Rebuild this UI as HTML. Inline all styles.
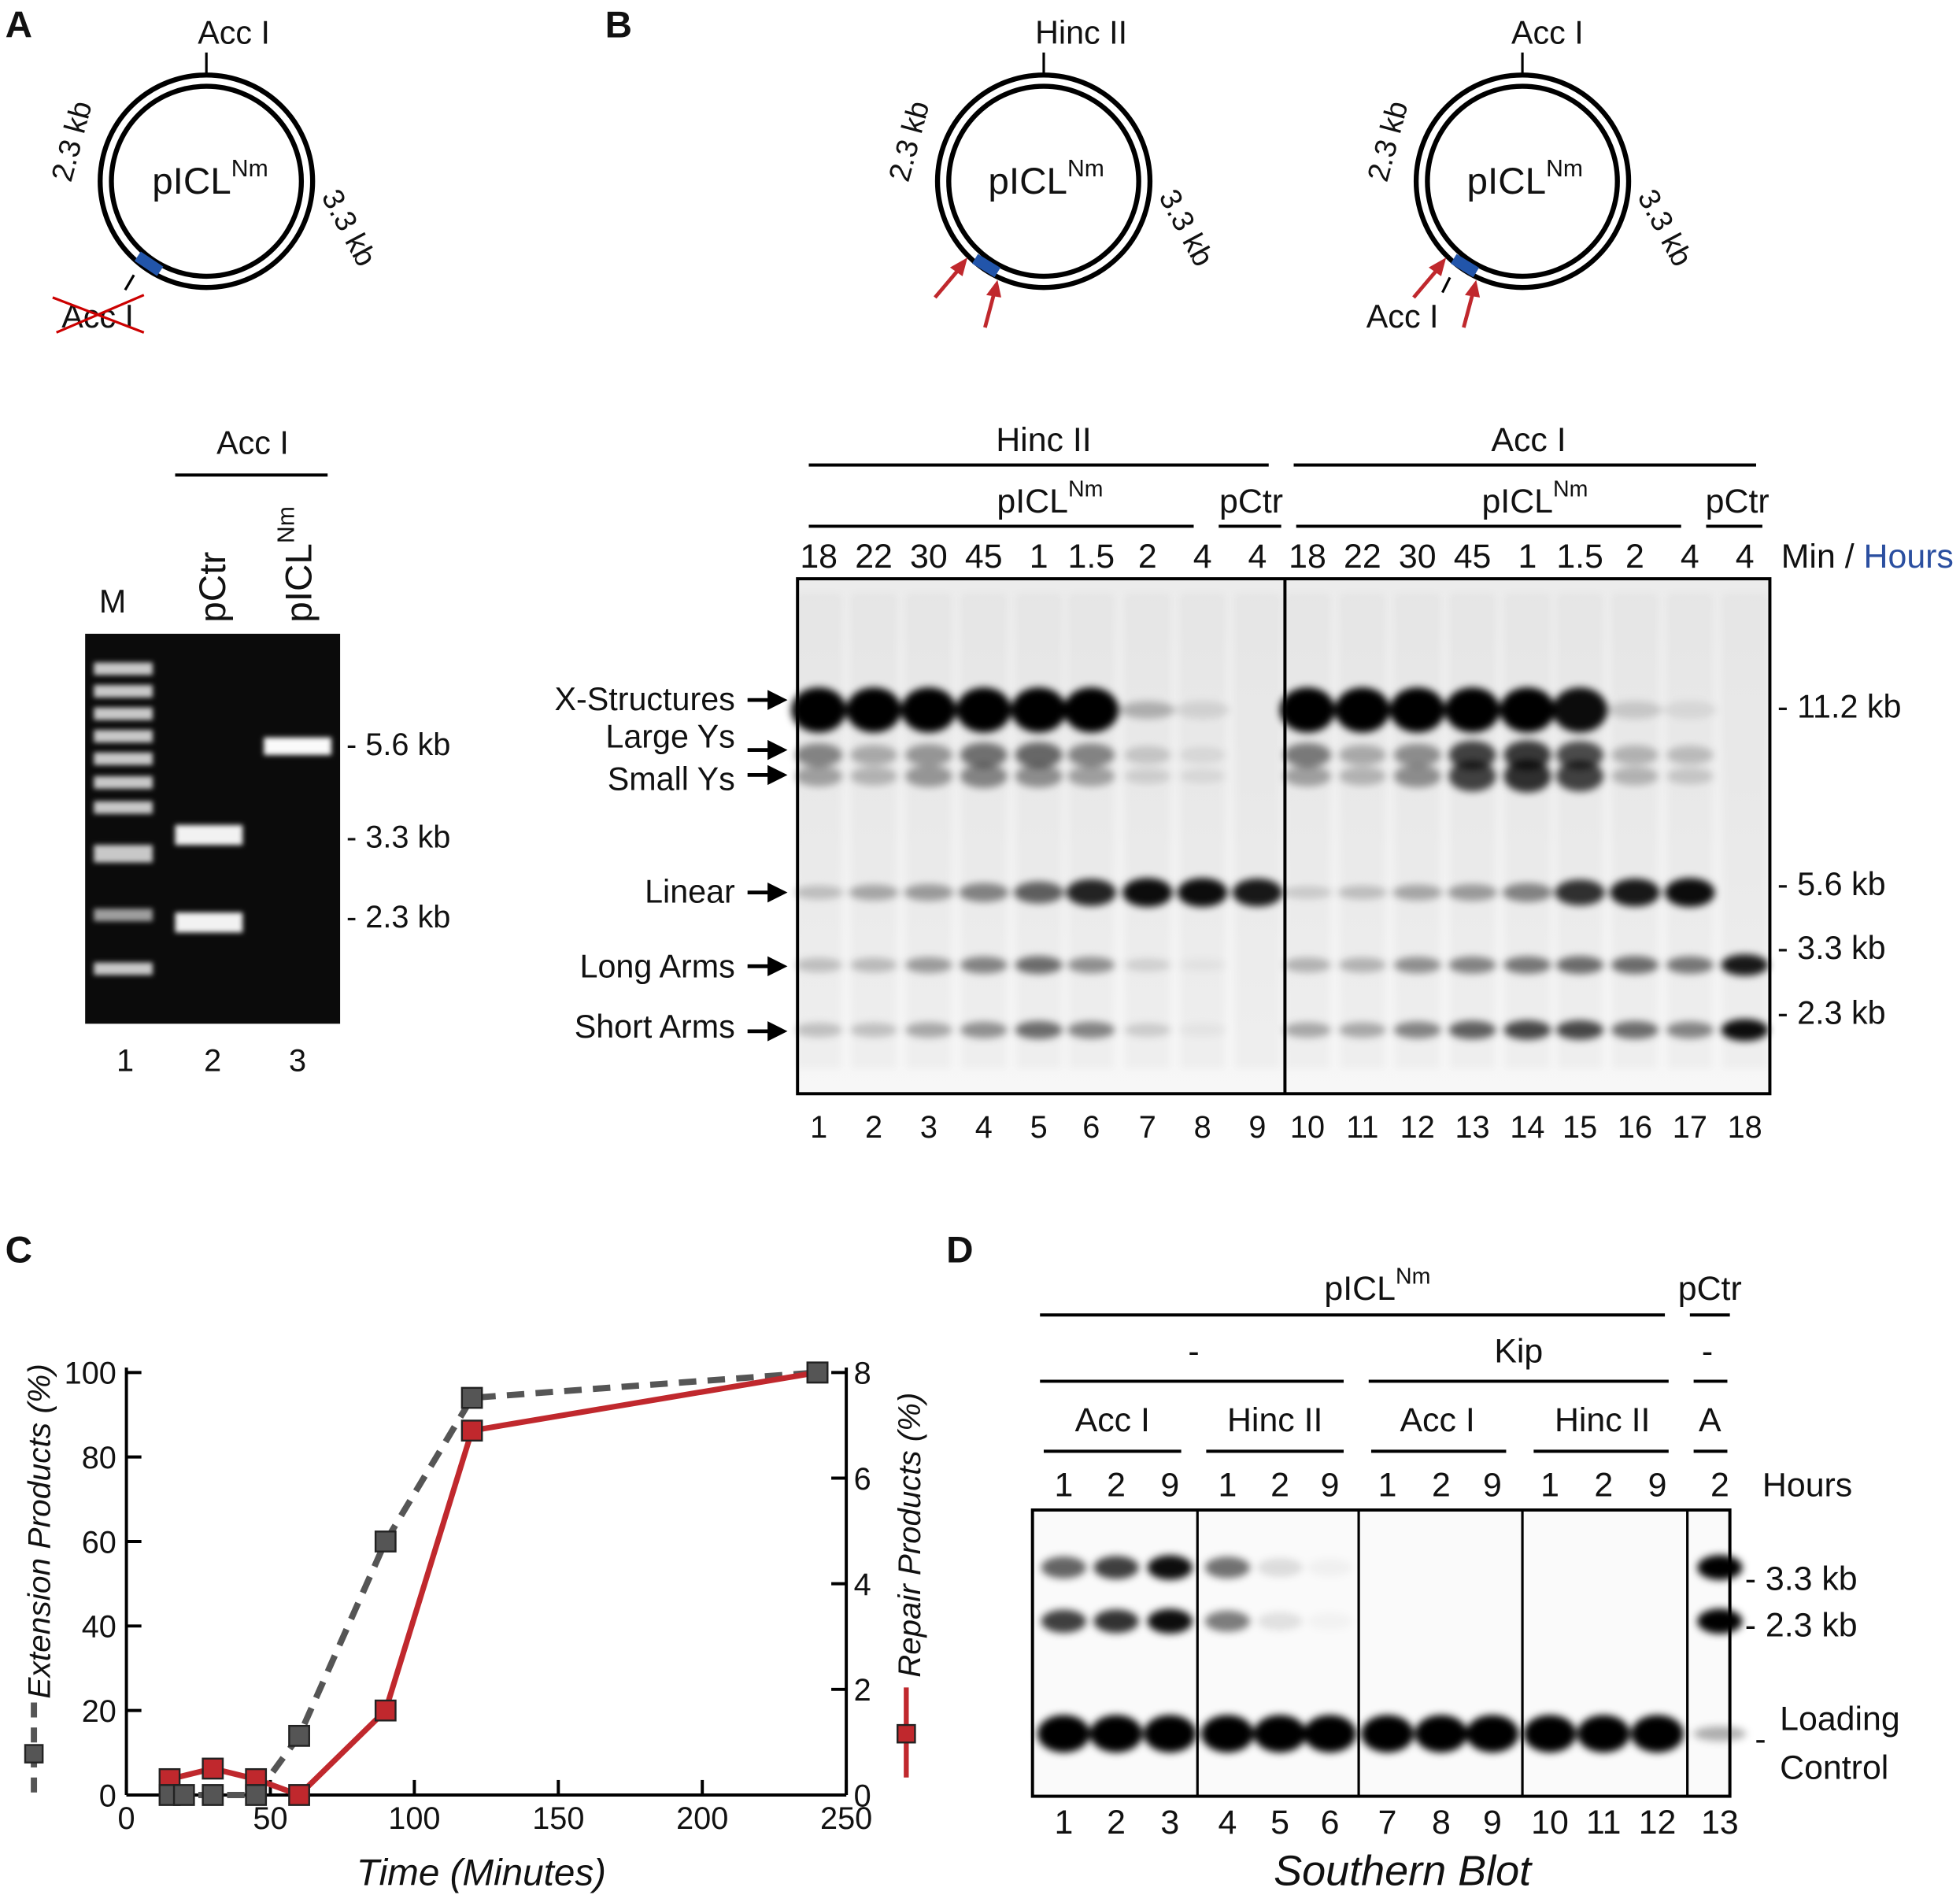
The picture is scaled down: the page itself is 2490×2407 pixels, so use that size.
<!DOCTYPE html>
<html><head><meta charset="utf-8">
<style>
html,body{margin:0;padding:0;background:#fff;}
svg{display:block;}
text{font-family:"Liberation Sans",sans-serif;fill:#111;}
</style></head>
<body>
<svg id="fig" width="2490" height="2407" viewBox="0 0 1568 1516" xmlns="http://www.w3.org/2000/svg">
<defs>
<filter id="blur" x="-50%" y="-100%" width="200%" height="300%"><feGaussianBlur stdDeviation="3"/></filter>
<filter id="blur2" x="-50%" y="-100%" width="200%" height="300%"><feGaussianBlur stdDeviation="2"/></filter>
<linearGradient id="gelbg" x1="0" y1="0" x2="0" y2="1"><stop offset="0" stop-color="#ececec"/><stop offset="1" stop-color="#f7f7f7"/></linearGradient>
</defs>

<!-- Panel A -->
<g>
<text x="4" y="30" font-size="30" font-weight="bold">A</text>
<circle cx="165" cy="145" r="85" fill="none" stroke="#000" stroke-width="4"/>
<circle cx="165" cy="145" r="76" fill="none" stroke="#000" stroke-width="4"/>
<line x1="165" y1="60" x2="165" y2="42" stroke="#000" stroke-width="2"/>
<text x="187" y="35" font-size="26" text-anchor="middle">Acc I</text>
<text x="168" y="155" font-size="30" text-anchor="middle">pICL<tspan font-size="19" dy="-14">Nm</tspan></text>
<text transform="translate(65,115) rotate(-75)" font-size="24" text-anchor="middle">2.3 kb</text>
<text transform="translate(272,186) rotate(62)" font-size="24" text-anchor="middle">3.3 kb</text>
<line x1="110" y1="205" x2="128" y2="217" stroke="#2255aa" stroke-width="9"/>
<line x1="107" y1="220" x2="100" y2="232" stroke="#000" stroke-width="2"/>
<text x="78" y="262" font-size="26" text-anchor="middle" fill="#333">Acc I</text>
<line x1="42" y1="238" x2="115" y2="266" stroke="#c00" stroke-width="2"/>
<line x1="45" y1="266" x2="115" y2="236" stroke="#c00" stroke-width="2"/>

<text x="202" y="363" font-size="26" text-anchor="middle">Acc I</text>
<line x1="140" y1="380" x2="262" y2="380" stroke="#000" stroke-width="2.5"/>
<text x="90" y="490" font-size="26" text-anchor="middle">M</text>
<text transform="translate(180,498) rotate(-90)" font-size="30">pCtr</text>
<text transform="translate(249,498) rotate(-90)" font-size="30">pICL<tspan font-size="19" dy="-14">Nm</tspan></text>
<rect x="68" y="507" width="204" height="312" fill="#0b0b0b"/>
<g id="gelA" filter="url(#blur2)"></g>
<text x="277" y="604" font-size="25">- 5.6 kb</text>
<text x="277" y="678" font-size="25">- 3.3 kb</text>
<text x="277" y="742" font-size="25">- 2.3 kb</text>
<text x="100" y="857" font-size="25" text-anchor="middle">1</text>
<text x="170" y="857" font-size="25" text-anchor="middle">2</text>
<text x="238" y="857" font-size="25" text-anchor="middle">3</text>
</g>

<!-- Panel B -->
<g>
<text x="484" y="30" font-size="30" font-weight="bold">B</text>
<g>
<circle cx="835" cy="145" r="85" fill="none" stroke="#000" stroke-width="4"/>
<circle cx="835" cy="145" r="76" fill="none" stroke="#000" stroke-width="4"/>
<line x1="835" y1="60" x2="835" y2="42" stroke="#000" stroke-width="2"/>
<text x="865" y="35" font-size="26" text-anchor="middle">Hinc II</text>
<text x="837" y="155" font-size="30" text-anchor="middle">pICL<tspan font-size="19" dy="-14">Nm</tspan></text>
<text transform="translate(735,115) rotate(-75)" font-size="24" text-anchor="middle">2.3 kb</text>
<text transform="translate(942,186) rotate(62)" font-size="24" text-anchor="middle">3.3 kb</text>
<line x1="780" y1="207" x2="798" y2="218" stroke="#2255aa" stroke-width="9"/>
<line x1="748" y1="238" x2="770" y2="212" stroke="#c0282d" stroke-width="3"/>
<polygon points="774,206 760,214 770,221" fill="#c0282d"/>
<line x1="788" y1="262" x2="796" y2="232" stroke="#c0282d" stroke-width="3"/>
<polygon points="798,224 789,236 801,238" fill="#c0282d"/>
</g>
<g>
<circle cx="1218" cy="145" r="85" fill="none" stroke="#000" stroke-width="4"/>
<circle cx="1218" cy="145" r="76" fill="none" stroke="#000" stroke-width="4"/>
<line x1="1218" y1="60" x2="1218" y2="42" stroke="#000" stroke-width="2"/>
<text x="1238" y="35" font-size="26" text-anchor="middle">Acc I</text>
<text x="1220" y="155" font-size="30" text-anchor="middle">pICL<tspan font-size="19" dy="-14">Nm</tspan></text>
<text transform="translate(1118,115) rotate(-75)" font-size="24" text-anchor="middle">2.3 kb</text>
<text transform="translate(1325,186) rotate(62)" font-size="24" text-anchor="middle">3.3 kb</text>
<line x1="1163" y1="207" x2="1181" y2="218" stroke="#2255aa" stroke-width="9"/>
<line x1="1160" y1="222" x2="1154" y2="234" stroke="#000" stroke-width="2"/>
<text x="1122" y="262" font-size="26" text-anchor="middle">Acc I</text>
<line x1="1131" y1="238" x2="1153" y2="212" stroke="#c0282d" stroke-width="3"/>
<polygon points="1157,206 1143,214 1153,221" fill="#c0282d"/>
<line x1="1171" y1="262" x2="1179" y2="232" stroke="#c0282d" stroke-width="3"/>
<polygon points="1181,224 1172,236 1184,238" fill="#c0282d"/>
</g>

<text x="835" y="361" font-size="27" text-anchor="middle">Hinc II</text>
<line x1="647" y1="372" x2="1015" y2="372" stroke="#000" stroke-width="2.5"/>
<text x="1223" y="361" font-size="27" text-anchor="middle">Acc I</text>
<line x1="1035" y1="372" x2="1405" y2="372" stroke="#000" stroke-width="2.5"/>
<text x="840" y="410" font-size="27" text-anchor="middle">pICL<tspan font-size="18" dy="-13">Nm</tspan></text>
<line x1="647" y1="421" x2="955" y2="421" stroke="#000" stroke-width="2.5"/>
<text x="1001" y="410" font-size="27" text-anchor="middle">pCtr</text>
<line x1="975" y1="421" x2="1025" y2="421" stroke="#000" stroke-width="2.5"/>
<text x="1228" y="410" font-size="27" text-anchor="middle">pICL<tspan font-size="18" dy="-13">Nm</tspan></text>
<line x1="1037" y1="421" x2="1345" y2="421" stroke="#000" stroke-width="2.5"/>
<text x="1390" y="410" font-size="27" text-anchor="middle">pCtr</text>
<line x1="1365" y1="421" x2="1410" y2="421" stroke="#000" stroke-width="2.5"/>
<g id="timeB"></g>
<text x="1425" y="454" font-size="27">Min / <tspan fill="#2b4fa0">Hours</tspan></text>

<rect x="638" y="463" width="778" height="412" fill="url(#gelbg)"/>
<g id="gelB" filter="url(#blur)"></g>
<rect x="638" y="463" width="778" height="412" fill="none" stroke="#000" stroke-width="2.5"/>
<line x1="1028" y1="463" x2="1028" y2="875" stroke="#000" stroke-width="2.5"/>
<g id="laneB"></g>
<g id="leftLabelsB"></g>
<text x="1422" y="574" font-size="26">- 11.2 kb</text>
<text x="1422" y="716" font-size="26">- 5.6 kb</text>
<text x="1422" y="767" font-size="26">- 3.3 kb</text>
<text x="1422" y="819" font-size="26">- 2.3 kb</text>
</g>

<!-- Panel C -->
<g>
<text x="4" y="1010" font-size="30" font-weight="bold">C</text>
<g id="chartC"></g>
</g>

<!-- Panel D -->
<g>
<text x="757" y="1010" font-size="30" font-weight="bold">D</text>
<text x="1102" y="1040" font-size="27" text-anchor="middle">pICL<tspan font-size="18" dy="-13">Nm</tspan></text>
<line x1="832" y1="1052" x2="1332" y2="1052" stroke="#000" stroke-width="2.5"/>
<text x="1368" y="1040" font-size="27" text-anchor="middle">pCtr</text>
<line x1="1352" y1="1052" x2="1384" y2="1052" stroke="#000" stroke-width="2.5"/>
<text x="955" y="1090" font-size="27" text-anchor="middle">-</text>
<text x="1215" y="1090" font-size="27" text-anchor="middle">Kip</text>
<text x="1366" y="1090" font-size="27" text-anchor="middle">-</text>
<line x1="832" y1="1105" x2="1075" y2="1105" stroke="#000" stroke-width="2.5"/>
<line x1="1095" y1="1105" x2="1335" y2="1105" stroke="#000" stroke-width="2.5"/>
<line x1="1355" y1="1105" x2="1382" y2="1105" stroke="#000" stroke-width="2.5"/>
<text x="890" y="1145" font-size="27" text-anchor="middle">Acc I</text>
<text x="1020" y="1145" font-size="27" text-anchor="middle">Hinc II</text>
<text x="1150" y="1145" font-size="27" text-anchor="middle">Acc I</text>
<text x="1282" y="1145" font-size="27" text-anchor="middle">Hinc II</text>
<text x="1368" y="1145" font-size="27" text-anchor="middle">A</text>
<line x1="835" y1="1161" x2="945" y2="1161" stroke="#000" stroke-width="2.5"/>
<line x1="965" y1="1161" x2="1075" y2="1161" stroke="#000" stroke-width="2.5"/>
<line x1="1097" y1="1161" x2="1205" y2="1161" stroke="#000" stroke-width="2.5"/>
<line x1="1227" y1="1161" x2="1335" y2="1161" stroke="#000" stroke-width="2.5"/>
<line x1="1355" y1="1161" x2="1382" y2="1161" stroke="#000" stroke-width="2.5"/>
<g id="hoursD"></g>
<text x="1410" y="1197" font-size="27">Hours</text>
<rect x="826" y="1208" width="558" height="229" fill="#fafafa"/>
<g id="gelD" filter="url(#blur)"></g>
<rect x="826" y="1208" width="558" height="229" fill="none" stroke="#000" stroke-width="2.5"/>
<line x1="958" y1="1208" x2="958" y2="1437" stroke="#000" stroke-width="2"/>
<line x1="1087" y1="1208" x2="1087" y2="1437" stroke="#000" stroke-width="2"/>
<line x1="1218" y1="1208" x2="1218" y2="1437" stroke="#000" stroke-width="2"/>
<line x1="1350" y1="1208" x2="1350" y2="1437" stroke="#000" stroke-width="2"/>
<g id="laneD"></g>
<text x="1396" y="1272" font-size="27">- 3.3 kb</text>
<text x="1396" y="1309" font-size="27">- 2.3 kb</text>
<text x="1424" y="1384" font-size="27">Loading</text>
<text x="1404" y="1400" font-size="27">-</text>
<text x="1424" y="1423" font-size="27">Control</text>
<text x="1122" y="1508" font-size="34" font-style="italic" text-anchor="middle">Southern Blot</text>
</g>

<script>
var NS='http://www.w3.org/2000/svg';
function mk(parent,tag,attrs,txt){var e=document.createElementNS(NS,tag);for(var k in attrs)e.setAttribute(k,attrs[k]);if(txt!==undefined)e.textContent=txt;parent.appendChild(e);return e;}

// ---- Gel A ----
var gelAMarkerY=[535,553,571,589,607,626,646,681,732,775];
var gelALane2=[668,738];
var gelALane3=[597];
var gA=document.getElementById('gelA');
gelAMarkerY.forEach(function(y,i){var b=mk(gA,'rect',{x:75,y:y-5,width:47,height:(i==7?14:10),fill:'#ddd',opacity:(i==8?0.7:0.9)});

});
gelALane2.forEach(function(y){var b=mk(gA,'rect',{x:140,y:y-8,width:54,height:16,fill:'#f2f2f2'});

});
gelALane3.forEach(function(y){var b=mk(gA,'rect',{x:211,y:y-7,width:54,height:14,fill:'#fafafa'});

});

// ---- Gel B ----
var laneXB=[655,699,743,787,831,873,918,962,1006,1046,1090,1134,1178,1222,1264,1308,1352,1396];
var timeLabelsB=['18','22','30','45','1','1.5','2','4','4','18','22','30','45','1','1.5','2','4','4'];
var isHourB=[0,0,0,0,1,1,1,1,1,0,0,0,0,1,1,1,1,1];
var bandYB={x:568,ly:604,sy:621,lin:714,la:772,sa:824};
var xStructB=[1,1,1,1,1,1,0.25,0.1,0,1,1,1,1,1,0.95,0.15,0.08,0];
var largeYB=[0.55,0.35,0.45,0.65,0.7,0.55,0.2,0.1,0,0.6,0.35,0.5,0.9,0.95,0.85,0.3,0.25,0];
var smallYB=[0.4,0.3,0.45,0.55,0.5,0.4,0.15,0.1,0,0.4,0.3,0.5,0.9,1,0.9,0.3,0.2,0];
var linearB=[0.2,0.3,0.35,0.45,0.6,0.85,0.95,0.95,0.9,0.15,0.2,0.3,0.35,0.45,0.8,0.9,0.95,0];
var longArmB=[0.2,0.22,0.35,0.45,0.55,0.4,0.12,0.05,0,0.25,0.25,0.4,0.45,0.5,0.55,0.55,0.5,0.9];
var shortArmB=[0.2,0.2,0.3,0.4,0.55,0.45,0.15,0.05,0,0.3,0.3,0.45,0.6,0.7,0.7,0.55,0.45,0.95];
var gB=document.getElementById('gelB'), tB=document.getElementById('timeB'), lB=document.getElementById('laneB');
function band(g,x,y,w,h,a,name){if(a<=0)return;var e=mk(g,'ellipse',{cx:x,cy:y,rx:w,ry:h,fill:'#000',opacity:a});

}
laneXB.forEach(function(x,i){
  mk(gB,'rect',{x:x-18,y:475,width:36,height:380,fill:'#000',opacity:0.03});
  band(gB,x,bandYB.x,22,xStructB[i]>0.9?18:7,xStructB[i],'x-structure-band');
  band(gB,x,bandYB.ly,19,6+largeYB[i]*6,largeYB[i]*0.8,'large-y-band');
  band(gB,x,bandYB.sy,19,5+smallYB[i]*8,smallYB[i]*0.8,'small-y-band');
  band(gB,x,bandYB.lin,20,4+linearB[i]*8,linearB[i],'linear-band');
  band(gB,x,bandYB.la,19,5+longArmB[i]*4,longArmB[i],'long-arm-band');
  band(gB,x,bandYB.sa,19,5+shortArmB[i]*4,shortArmB[i],'short-arm-band');
  var t=mk(tB,'text',{x:x,y:454,'font-size':27,'text-anchor':'middle',fill:isHourB[i]?'#2b4fa0':'#111'},timeLabelsB[i]);
  
  
  var n=mk(lB,'text',{x:x,y:910,'font-size':25,'text-anchor':'middle'},String(i+1));
  
  
});
var leftLabelsB=['X-Structures','Large Ys','Small Ys','Linear','Long Arms','Short Arms'];
var leftLabelYB=[568,598,632,722,782,830];
var arrowYB=[560,600,620,714,773,825];
var lL=document.getElementById('leftLabelsB');
leftLabelsB.forEach(function(s,i){
  var t=mk(lL,'text',{x:588,y:leftLabelYB[i],'font-size':26,'text-anchor':'end'},s);
  
  
  mk(lL,'line',{x1:598,y1:arrowYB[i],x2:618,y2:arrowYB[i],stroke:'#000','stroke-width':3});
  mk(lL,'polygon',{points:'630,'+arrowYB[i]+' 614,'+(arrowYB[i]-8)+' 614,'+(arrowYB[i]+8),fill:'#000'});
});

// ---- Chart C ----
var timeC=[15,20,30,45,60,90,120,240];
var extensionC=[0,0,0,0,14,60,94,100];
var repairTimeC=[15,30,45,60,90,120,240];
var repairC=[0.3,0.5,0.3,0,1.6,6.9,8];
var xTicksC=[0,50,100,150,200,250];
var yTicksLeftC=[0,20,40,60,80,100];
var yTicksRightC=[0,2,4,6,8];
var X0=101,X1=677,Y0=1436,Y1=1098;
function sx(v){return X0+(v/250)*(X1-X0);}
function syL(v){return Y0-(v/100)*(Y0-Y1);}
function syR(v){return Y0-(v/8)*(Y0-Y1);}
var gC=document.getElementById('chartC');
mk(gC,'line',{x1:X0,y1:Y1-4,x2:X0,y2:Y0,stroke:'#000','stroke-width':2.5});
mk(gC,'line',{x1:X1,y1:Y1-4,x2:X1,y2:Y0,stroke:'#000','stroke-width':2.5});
mk(gC,'line',{x1:X0,y1:Y0,x2:X1,y2:Y0,stroke:'#000','stroke-width':2.5});
xTicksC.forEach(function(v){
  mk(gC,'line',{x1:sx(v),y1:Y0,x2:sx(v),y2:Y0-12,stroke:'#000','stroke-width':2.5});
  var t=mk(gC,'text',{x:sx(v),y:Y0+27,'font-size':25,'text-anchor':'middle'},String(v));
  
  
});
yTicksLeftC.forEach(function(v){
  mk(gC,'line',{x1:X0,y1:syL(v),x2:X0+12,y2:syL(v),stroke:'#000','stroke-width':2.5});
  var t=mk(gC,'text',{x:X0-8,y:syL(v)+9,'font-size':25,'text-anchor':'end'},String(v));
  
  
});
yTicksRightC.forEach(function(v){
  mk(gC,'line',{x1:X1,y1:syR(v),x2:X1-12,y2:syR(v),stroke:'#000','stroke-width':2.5});
  var t=mk(gC,'text',{x:X1+6,y:syR(v)+9,'font-size':25},String(v));
  
  
});
var gp=timeC.map(function(t,i){return sx(t)+','+syL(extensionC[i]);}).join(' ');
var gl=mk(gC,'polyline',{points:gp,fill:'none',stroke:'#555','stroke-width':5,'stroke-dasharray':'14,9'});


var rp=repairTimeC.map(function(t,i){return sx(t)+','+syR(repairC[i]);}).join(' ');
var rl=mk(gC,'polyline',{points:rp,fill:'none',stroke:'#c0282d','stroke-width':4.5});


repairTimeC.forEach(function(t,i){
  var r=mk(gC,'rect',{x:sx(t)-8,y:syR(repairC[i])-8,width:16,height:16,fill:'#c0282d',stroke:'#222','stroke-width':1.5});
  
  
});
timeC.forEach(function(t,i){
  var r=mk(gC,'rect',{x:sx(t)-8,y:syL(extensionC[i])-8,width:16,height:16,fill:'#555',stroke:'#222','stroke-width':1.5});
  
  
});
var tl=mk(gC,'text',{x:385,y:1508,'font-size':30,'font-style':'italic','text-anchor':'middle'},'Time (Minutes)');


var yl=mk(gC,'text',{transform:'translate(40,1225) rotate(-90)','font-size':25,'font-style':'italic','text-anchor':'middle','textLength':268,'lengthAdjust':'spacingAndGlyphs'},'Extension Products (%)');


var yr=mk(gC,'text',{transform:'translate(736,1228) rotate(-90)','font-size':25,'font-style':'italic','text-anchor':'middle','textLength':228,'lengthAdjust':'spacingAndGlyphs'},'Repair Products (%)');


mk(gC,'line',{x1:27,y1:1362,x2:27,y2:1440,stroke:'#555','stroke-width':5,'stroke-dasharray':'12,8'});
mk(gC,'rect',{x:20,y:1396,width:14,height:14,fill:'#555',stroke:'#222','stroke-width':1.5});
mk(gC,'line',{x1:725,y1:1350,x2:725,y2:1422,stroke:'#c0282d','stroke-width':4});
mk(gC,'rect',{x:718,y:1380,width:14,height:14,fill:'#c0282d',stroke:'#222','stroke-width':1.5});

// ---- Gel D ----
var laneXD=[851,893,936,982,1024,1064,1110,1153,1194,1240,1283,1326,1376];
var hoursD=['1','2','9','1','2','9','1','2','9','1','2','9','2'];
var band33D=[0.6,0.75,0.95,0.55,0.12,0.04,0,0,0,0,0,0,1];
var band23D=[0.75,0.8,0.95,0.5,0.1,0.03,0,0,0,0,0,0,1];
var loadingD=[1,1,1,1,1,1,1,1,1,1,1,1,0.3];
var gD=document.getElementById('gelD'), hD=document.getElementById('hoursD'), lD=document.getElementById('laneD');
laneXD.forEach(function(x,i){
  band(gD,x,1254,18,7+band33D[i]*3,band33D[i],'band-3-3kb');
  band(gD,x,1297,18,7+band23D[i]*3,band23D[i],'band-2-3kb');
  band(gD,x,1387,21,loadingD[i]>0.5?15:6,loadingD[i],'loading-control-band');
  var t=mk(hD,'text',{x:x,y:1197,'font-size':27,'text-anchor':'middle'},hoursD[i]);
  
  
  var n=mk(lD,'text',{x:x,y:1467,'font-size':27,'text-anchor':'middle'},String(i+1));
  
  
});
</script>
</svg>
</body></html>
